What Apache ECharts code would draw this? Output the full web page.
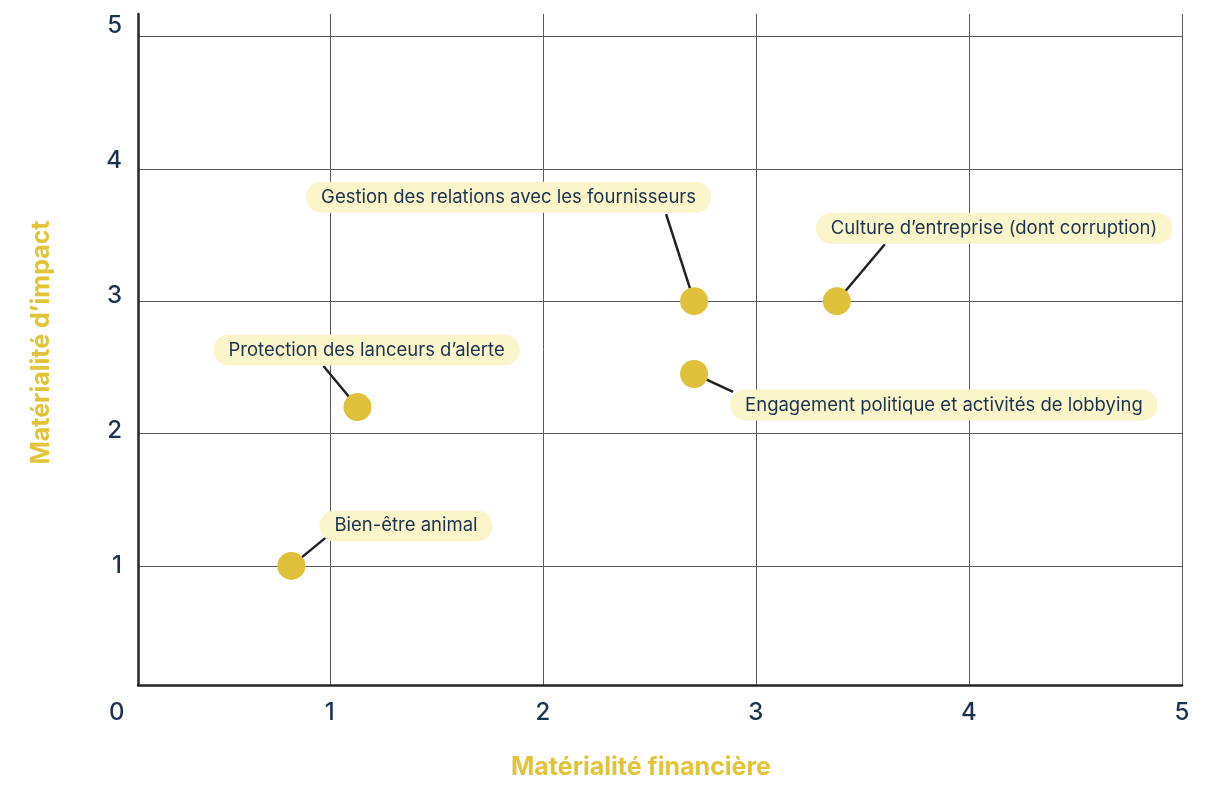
<!DOCTYPE html>
<html lang="fr">
<head>
<meta charset="utf-8">
<title>Matrice de matérialité</title>
<script src="https://cdn.jsdelivr.net/npm/echarts@6/dist/echarts.min.js"></script>
<style>
  html, body { margin: 0; padding: 0; background: #ffffff; }
  #chart { width: 1211px; height: 785px; }
</style>
</head>
<body>
<div id="chart"></div>
<script>
// Enjeux et leurs scores (matérialité financière, matérialité d'impact)
const topics = [
  'Bien-être animal',
  'Protection des lanceurs d’alerte',
  'Gestion des relations avec les fournisseurs',
  'Engagement politique et activités de lobbying',
  'Culture d’entreprise (dont corruption)'
];
const financialScores = [0.82, 1.13, 2.71, 2.71, 3.38];
const impactScores = [1.0, 2.2, 3.0, 2.45, 3.0];
const axisTicks = [0, 1, 2, 3, 4, 5];

const xAxisTitle = 'Matérialité financière';
const yAxisTitle = 'Matérialité d’impact';

// Placement des étiquettes (décalages en pixels depuis le centre du point)
const calloutLayout = [
  { dx: 28,   dy: -40,  lx: 34,  ly: -28 },
  { dx: -144, dy: -57,  lx: -34, ly: -41 },
  { dx: -388, dy: -104, lx: -28, ly: -87 },
  { dx: 36,   dy: 31,   lx: 39,  ly: 18 },
  { dx: -21,  dy: -73,  lx: 48,  ly: -57 }
];

const NAVY = '#1c3350';
const MUSTARD = '#dfc13b';
const TITLE_YELLOW = '#e2c43a';
const PILL = '#fbf5cb';
const FONT = 'Inter, "Noto Sans", sans-serif';

// Léger décalage vertical des graduations de l'axe vertical
const yLabelShift = { 1: 0, 2: 2.5, 3: 5.5, 4: 8.5, 5: 11 };
const yRich = {};
axisTicks.forEach(function (t) {
  yRich['v' + t] = {
    fontFamily: FONT, fontSize: 24, fontWeight: 500, color: NAVY,
    padding: [0, 0, 2 * (yLabelShift[t] || 0), 0]
  };
});

const points = financialScores.map(function (x, i) { return [x, impactScores[i]]; });

const chart = echarts.init(document.getElementById('chart'), null, { renderer: 'canvas' });

function isTick(v) {
  return axisTicks.indexOf(Math.round(v * 1000) / 1000) >= 0;
}

chart.setOption({
  backgroundColor: '#ffffff',
  animation: false,
  grid: { left: 138, right: 29, top: 14, bottom: 98, containLabel: false },
  xAxis: {
    type: 'value',
    min: 0.1,
    max: 5,
    splitNumber: 5,
    axisLine: { show: true, lineStyle: { color: '#262626', width: 2.5 } },
    axisTick: { show: false },
    axisLabel: {
      margin: 16,
      fontFamily: FONT, fontSize: 24, fontWeight: 500, color: NAVY,
      showMinLabel: false,
      formatter: function (v) { return isTick(v) && v > 0 ? String(v) : ''; }
    },
    splitLine: {
      show: true, showMinLine: false, showMaxLine: true,
      lineStyle: { color: '#5a5a5a', width: 1 }
    },
    name: xAxisTitle,
    nameLocation: 'middle',
    nameGap: 70,
    nameTextStyle: {
      fontFamily: FONT, fontSize: 25, fontWeight: 'bold', color: TITLE_YELLOW,
      padding: [0, 38, 0, 0]
    }
  },
  yAxis: {
    type: 'value',
    min: 0.1,
    max: 5.17,
    splitNumber: 5,
    axisLine: { show: true, lineStyle: { color: '#262626', width: 2.5 } },
    axisTick: { show: false },
    axisLabel: {
      margin: 16,
      showMinLabel: false,
      showMaxLabel: false,
      formatter: function (v) {
        return isTick(v) && v > 0 ? '{v' + v + '|' + v + '}' : '';
      },
      rich: yRich
    },
    splitLine: {
      show: true, showMinLine: false, showMaxLine: false,
      lineStyle: { color: '#5a5a5a', width: 1 }
    },
    name: yAxisTitle,
    nameLocation: 'middle',
    nameGap: 84,
    nameTextStyle: {
      fontFamily: FONT, fontSize: 25, fontWeight: 'bold', color: TITLE_YELLOW,
      padding: [0, 0, 0, 14]
    }
  },
  series: [
    {
      // étiquettes en pastille reliées aux points
      type: 'custom',
      z: 2,
      data: points,
      renderItem: function (params, api) {
        const p = api.coord([api.value(0), api.value(1)]);
        const L = calloutLayout[params.dataIndex];
        return {
          type: 'group',
          children: [
            {
              type: 'line',
              shape: { x1: p[0], y1: p[1], x2: p[0] + L.lx, y2: p[1] + L.ly },
              style: { stroke: '#222222', lineWidth: 2.5 }
            },
            {
              type: 'text',
              x: p[0] + L.dx,
              y: p[1] + L.dy,
              style: {
                text: topics[params.dataIndex],
                align: 'left',
                verticalAlign: 'middle',
                font: '18.5px ' + FONT,
                fill: NAVY,
                backgroundColor: PILL,
                borderRadius: 16,
                padding: [5, 15, 5, 15],
                lineHeight: 21
              }
            }
          ]
        };
      }
    },
    {
      type: 'scatter',
      z: 5,
      data: points,
      symbol: 'circle',
      symbolSize: 28,
      itemStyle: { color: MUSTARD, opacity: 1 }
    }
  ]
});

// Libellé "0" commun à l'origine, placé sur l'échelle de l'axe horizontal
const zeroX = chart.convertToPixel({ xAxisIndex: 0 }, 0);
const axisY = chart.convertToPixel({ yAxisIndex: 0 }, 0.1);
chart.setOption({
  graphic: [{
    type: 'text',
    x: zeroX,
    y: axisY + 16,
    style: {
      text: String(axisTicks[0]),
      align: 'center',
      verticalAlign: 'top',
      font: '500 24px ' + FONT,
      fill: NAVY
    }
  }]
});
</script>
</body>
</html>
